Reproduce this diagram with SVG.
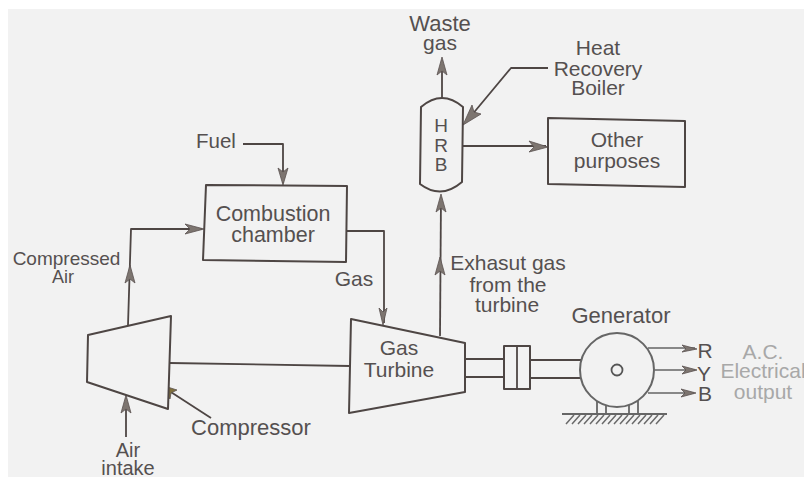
<svg xmlns="http://www.w3.org/2000/svg" width="804" height="477" viewBox="0 0 804 477">
<style>
.l{fill:none;stroke:#4e4644;stroke-width:1.8;stroke-linejoin:round}
.t{fill:#f2f2f2;stroke:#4e4644;stroke-width:2;stroke-linejoin:round}
.a{fill:#7d7570;stroke:#5a5250;stroke-width:.8}
text{font-family:"Liberation Sans",Arial,sans-serif;font-size:21px;fill:#555050;text-anchor:middle}
.p{fill:#a8a8a8}
.h{fill:none;stroke:#6a6a6a;stroke-width:1.5}
</style>
<defs>
<path id="au" class="a" d="M0,0 L-5,18 L0,14 L5,18 Z"/>
</defs>
<rect width="804" height="477" fill="#fff"/>
<rect x="8" y="9" width="796" height="468" fill="#f2f2f2"/>
<g id="connectors">
<path class="l" d="M442,98 V60"/><use href="#au" x="442" y="57"/>
<path class="l" d="M548,68 H511 L466,122"/><path class="a" d="M463,125 L472,105 L474,112 L481,114 Z"/>
<path class="l" d="M463,146 H546"/><path class="a" d="M548,147 L529,141 L534,147 L529,152 Z"/>
<path class="l" d="M440,336 L441,197"/><use href="#au" x="441" y="194"/><use href="#au" x="440" y="257"/>
<path class="l" d="M243,144 H283 V183"/><path class="a" d="M283,185 L278,168 L283,172 L288,168 Z"/>
<path class="l" d="M347,231 H384 V323"/><path class="a" d="M383,325 L379,308 L383,312 L387,308 Z"/>
<path class="l" d="M128,325 L131,229 H202"/><use href="#au" x="130" y="265"/><path class="a" d="M204,229 L185,224 L190,229 L185,234 Z"/>
<path class="l" d="M170,363 L350,366"/>
<path class="l" d="M126,437 V398"/><use href="#au" x="126" y="395"/>
<path class="l" d="M211,418 L160,385"/><path class="a" d="M158,384 L177,390 L171,393 L170,399 Z" style="fill:#80703c"/>
<path class="l" d="M465,359 H504 M465,377 H504 M530,360 H581 M530,378 H581"/>
<path class="l" style="stroke:#666;stroke-width:1.5" d="M648,348 H695 M655,370 H695 M648,393 H694"/>
<path class="a" d="M697,349 L682,345 L686,349 L682,352 Z M697,370 L682,366 L686,370 L682,374 Z M696,393 L681,389 L685,393 L681,397 Z"/>
</g>
<g id="hrb"><path class="t" d="M421,107 Q442,89 463,107 L462,182 Q441,200 420,184 Z"/><g style="font-size:19px"><text x="441" y="132" style="font-size:19px">H</text><text x="441" y="152" style="font-size:19px">R</text><text x="441" y="171" style="font-size:19px">B</text></g></g>
<g id="other"><path class="t" d="M548,118 L685,121 V187 L548,184 Z"/><text x="617" y="147">Other</text><text x="617" y="168">purposes</text></g>
<g id="combustion"><path class="t" d="M206,185 L347,186 L346,262 L203,260 Z"/><text x="273" y="221" style="font-size:21.5px">Combustion</text><text x="273" y="242" style="font-size:21.5px">chamber</text></g>
<g id="compressor"><path class="t" d="M88,335 L171,316 L168,409 L87,382 Z"/></g>
<g id="turbine"><path class="t" d="M351,319 L465,343 V392 L349,413 Z"/><text x="399" y="355">Gas</text><text x="399" y="377">Turbine</text></g>
<g id="coupling"><rect class="t" x="504" y="346" width="26" height="43"/><path class="l" d="M517,346 V389"/></g>
<g id="generator">
<path class="l" style="stroke:#666" d="M597,400 V414 M606,404 V414 M629,404 V414 M638,400 V414"/>
<circle class="t" style="stroke:#666" cx="617" cy="370" r="37"/>
<circle class="l" style="stroke:#555" cx="617" cy="370" r="5.5"/>
<path class="l" style="stroke:#666" d="M562,414 H667"/>
<path class="h" d="M566,424 L574,415 M572,424 L580,415 M578,424 L586,415 M584,424 L592,415 M590,424 L598,415 M596,424 L604,415 M602,424 L610,415 M608,424 L616,415 M614,424 L622,415 M620,424 L628,415 M626,424 L634,415 M632,424 L640,415 M638,424 L646,415 M644,424 L652,415 M650,424 L658,415 M656,424 L664,415"/>
</g>
<g id="labels">
<text x="440" y="31" style="font-size:22px">Waste</text><text x="440" y="50">gas</text>
<text x="598" y="55">Heat</text><text x="598" y="76">Recovery</text><text x="598" y="95">Boiler</text>
<text x="216" y="148" style="font-size:20.5px">Fuel</text>
<text x="66.500" y="265" style="font-size:19px">Compressed</text><text x="63" y="283" style="font-size:18px">Air</text>
<text x="354" y="286">Gas</text>
<text x="508" y="270">Exhasut gas</text><text x="508" y="292">from the</text><text x="507" y="312">turbine</text>
<text x="621" y="323" style="font-size:22px">Generator</text>
<text x="251" y="435" style="font-size:22px">Compressor</text>
<text x="128" y="457" style="font-size:20px">Air</text><text x="128" y="475" style="font-size:20px">intake</text>
<text x="705" y="358">R</text><text x="704" y="381">Y</text><text x="705" y="401">B</text>
<text class="p" x="763" y="359">A.C.</text><text class="p" x="763" y="378">Electrical</text><text class="p" x="763" y="399">output</text>
</g>
</svg>
